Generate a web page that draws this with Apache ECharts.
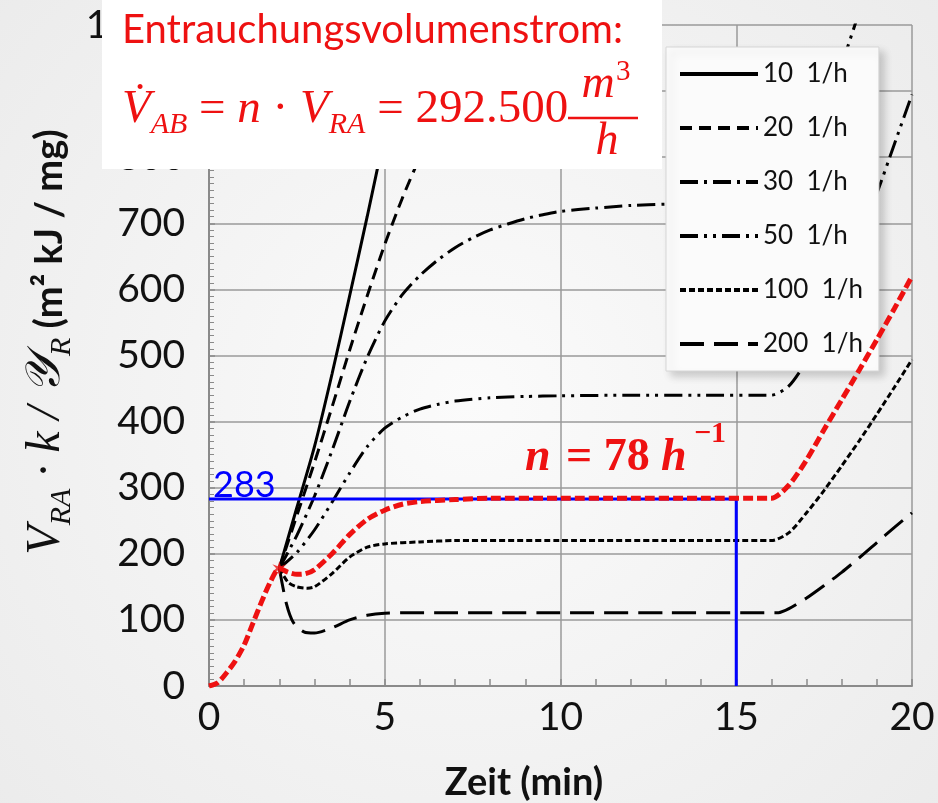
<!DOCTYPE html>
<html>
<head>
<meta charset="utf-8">
<script src="https://cdn.jsdelivr.net/npm/echarts@6/dist/echarts.min.js"></script>
<style>
html, body { margin: 0; padding: 0; }
#chart { width: 938px; height: 803px; }
</style>
</head>
<body>
<div id="chart"></div>
<script>
// Zeit (min) / V_RA*k/Y_R
var n10 = [[2,178],[2.5,270],[3,362],[3.5,472],[4,590],[4.5,710],[5,835],[5.5,960],[6,1085]];
var n20 = [[2,178],[2.5,258],[3,338],[3.5,422],[4,508],[4.5,590],[5,668],[5.5,738],[6,800],[6.5,855],[7,905],[8,990]];
var n30 = [[2,178],[2.5,228],[3,287],[3.5,356],[4,430],[4.5,497],[5,552],[5.5,592],[6,621],[6.5,644],[7,663],[7.5,678],[8,690],[8.5,699],[9,707],[9.5,713],[10,718],[11,723],[12,727],[13,729],[14,730],[15,731],[16,731],[16.5,748],[17,795],[17.5,862],[18,940],[18.5,1020]];
var n50 = [[2,178],[2.5,202],[3,236],[3.5,278],[4,322],[4.5,362],[5,390],[5.5,407],[6,419],[6.5,426],[7,431],[8,436],[9,438],[10,439],[12,440],[14,440],[16,440],[16.5,454],[17,492],[17.5,545],[18,608],[18.5,676],[19,745],[19.5,820],[20,895]];
var n100 = [[2,178],[2.25,157],[2.5,150],[2.8,148],[3,150],[3.5,170],[4,195],[4.5,210],[5,215],[6,218],[7,220],[10,220],[13,220],[16,220],[16.5,232],[17,262],[17.5,296],[18,333],[18.5,371],[19,411],[19.5,452],[20,494]];
var n200 = [[2,178],[2.2,125],[2.4,96],[2.7,82],[3,80],[3.5,88],[4,100],[4.5,107],[5,110],[6,111],[10,111],[13,111],[16.2,111],[16.5,117],[17,133],[17.5,152],[18,172],[18.5,194],[19,217],[19.5,240],[20,262]];
var n78 = [[0,0],[0.25,5],[0.5,20],[0.75,38],[1,62],[1.25,95],[1.5,128],[1.75,158],[2,178],[2.25,172],[2.5,169],[2.75,170],[3,176],[3.5,200],[4,229],[4.5,252],[5,266],[5.5,275],[6,279],[7,282],[8,284],[10,284],[12,284],[14,284],[16,284],[16.5,304],[17,342],[17.5,388],[18,433],[18.5,478],[19,524],[19.5,571],[20,620]];
var blauLinie = [[0,283],[15,283],[15,0]];
var sternPunkt = [[2,178]];
var legendNames = ['10  1/h', '20  1/h', '30  1/h', '50  1/h', '100  1/h', '200  1/h'];

var chart = echarts.init(document.getElementById('chart'));
var serif = '"Liberation Serif", "DejaVu Serif", serif';
var sans = 'Lato, "Open Sans", sans-serif';
var rot = '#ee1111';

function schwarz(name, data, dash) {
    return {
        name: name,
        type: 'line',
        data: data,
        symbol: 'none',
        smooth: 0.25,
        itemStyle: { color: '#000' },
        lineStyle: { color: '#000', width: 3, type: dash, cap: 'butt' },
        z: 3
    };
}

function txt(x, y, text, font, fill, align) {
    return {
        type: 'text', x: x, y: y, z: 101,
        style: { text: text, font: font, fill: fill, align: align || 'left', verticalAlign: 'middle',
                 textAlign: align || 'left', textVerticalAlign: 'middle' }
    };
}

var option = {
    animation: false,
    backgroundColor: new echarts.graphic.RadialGradient(0.5, 0.5, 0.8, [
        { offset: 0, color: '#fbfbfb' },
        { offset: 1, color: '#ebebeb' }
    ]),
    grid: { left: 209, right: 26, top: 25, bottom: 117 },
    xAxis: {
        type: 'value', min: 0, max: 20, interval: 5,
        axisLine: { lineStyle: { color: '#8a8a8a', width: 2 } },
        axisTick: { show: true, inside: true, length: 7, lineStyle: { color: '#8a8a8a', width: 1.5 } },
        minorTick: { show: true, splitNumber: 5, length: 7, lineStyle: { color: '#8a8a8a', width: 1.5 } },
        splitLine: { show: true, lineStyle: { color: '#9a9a9a', width: 1.5 } },
        axisLabel: { fontFamily: sans, fontSize: 39, color: '#111', margin: 12 }
    },
    yAxis: {
        type: 'value', min: 0, max: 1000, interval: 100,
        axisLine: { show: true, lineStyle: { color: '#8a8a8a', width: 2 } },
        axisTick: { show: true, inside: true, length: 6, lineStyle: { color: '#8a8a8a', width: 1.5 } },
        minorTick: { show: true, splitNumber: 10, length: 5, lineStyle: { color: '#8a8a8a', width: 1 } },
        splitLine: { show: true, lineStyle: { color: '#9a9a9a', width: 1.5 } },
        axisLabel: { fontFamily: sans, fontSize: 39, color: '#111', margin: 24 }
    },
    legend: {
        data: legendNames,
        orient: 'vertical',
        left: 666, top: 47,
        itemWidth: 78, itemHeight: 16, itemGap: 24,
        padding: [12, 16, 12, 12],
        backgroundColor: '#fbfbfb',
        borderColor: '#d6d6d6', borderWidth: 1,
        shadowBlur: 8, shadowColor: 'rgba(0,0,0,0.18)', shadowOffsetX: 5, shadowOffsetY: 5,
        itemStyle: { opacity: 0 },
        lineStyle: { width: 4 },
        textStyle: { fontFamily: sans, fontSize: 26, color: '#111', lineHeight: 30 }
    },
    graphic: [
        { type: 'rect', z: 100, shape: { x: 102, y: 0, width: 560, height: 169 }, style: { fill: '#ffffff' } },
        txt(122, 30, 'Entrauchungsvolumenstrom:', '40px ' + sans, rot),
        {
            type: 'text', x: 122, y: 113, z: 101,
            style: {
                text: '{v|V\u0307}{s|AB}{u| = }{v|n}{u| \u00b7 }{v|V}{s|RA}{u| = 292.500}',
                align: 'left', verticalAlign: 'middle', textAlign: 'left', textVerticalAlign: 'middle',
                fill: rot,
                rich: {
                    v: { fontFamily: serif, fontStyle: 'italic', fontSize: 47, color: rot, verticalAlign: 'bottom', padding: [0, 0, 7, 0] },
                    u: { fontFamily: serif, fontSize: 47, color: rot, verticalAlign: 'bottom', padding: [0, 0, 7, 0] },
                    s: { fontFamily: serif, fontStyle: 'italic', fontSize: 30, color: rot, verticalAlign: 'bottom' }
                }
            }
        },
        { type: 'line', z: 101, shape: { x1: 568, y1: 118, x2: 638, y2: 118 }, style: { stroke: rot, lineWidth: 2.5 } },
        txt(598, 85, 'm', 'italic 46px ' + serif, rot, 'center'),
        txt(616, 72, '3', '29px ' + serif, rot),
        txt(607, 142, 'h', 'italic 46px ' + serif, rot, 'center'),
        txt(213, 485, '283', '36px ' + sans, '#0000ff'),
        txt(525, 458, 'n', 'italic bold 46px ' + serif, rot),
        txt(566, 458, '= 78', 'bold 46px ' + serif, rot),
        txt(661, 458, 'h', 'italic bold 46px ' + serif, rot),
        txt(694, 434, '\u22121', 'bold 30px ' + serif, rot),
        txt(524, 783, 'Zeit (min)', 'bold 38px ' + sans, '#111', 'center'),
        {
            type: 'text', x: 50, y: 342, rotation: Math.PI / 2, z: 101,
            style: {
                text: '{v|V}{s|RA}{v| \u00b7 k / \ud835\udcb4}{s|R}{b| (m\u00b2 kJ / mg)}',
                align: 'center', verticalAlign: 'middle', textAlign: 'center', textVerticalAlign: 'middle',
                fill: '#111',
                rich: {
                    v: { fontFamily: serif, fontStyle: 'italic', fontSize: 48, color: '#111', verticalAlign: 'bottom', padding: [0, 0, 7, 0] },
                    s: { fontFamily: serif, fontStyle: 'italic', fontSize: 30, color: '#111', verticalAlign: 'bottom' },
                    b: { fontFamily: sans, fontWeight: 'bold', fontSize: 38, color: '#111', verticalAlign: 'bottom', padding: [0, 0, 9, 0] }
                }
            }
        }
    ],
    series: [
        schwarz(legendNames[0], n10, 'solid'),
        schwarz(legendNames[1], n20, [12, 7]),
        schwarz(legendNames[2], n30, [18, 6, 3, 6]),
        schwarz(legendNames[3], n50, [18, 6, 3, 6, 3, 6]),
        schwarz(legendNames[4], n100, [6, 3]),
        schwarz(legendNames[5], n200, [24, 10]),
        {
            name: 'Grenzwert', type: 'line', data: blauLinie, symbol: 'none',
            lineStyle: { color: '#0000ff', width: 3 }, z: 4
        },
        {
            name: 'n = 78', type: 'line', data: n78, symbol: 'none', smooth: 0.25,
            lineStyle: { color: rot, width: 5, type: [10, 4] }, z: 5
        },
        {
            name: 'Stern', type: 'scatter', data: sternPunkt, symbolSize: 14,
            symbol: 'path://M0,-10 L2,-3 L9,-6 L4,0 L9,6 L2,3 L0,10 L-2,3 L-9,6 L-4,0 L-9,-6 L-2,-3 Z',
            itemStyle: { color: rot }, z: 6
        }
    ]
};
chart.setOption(option);
</script>
</body>
</html>
